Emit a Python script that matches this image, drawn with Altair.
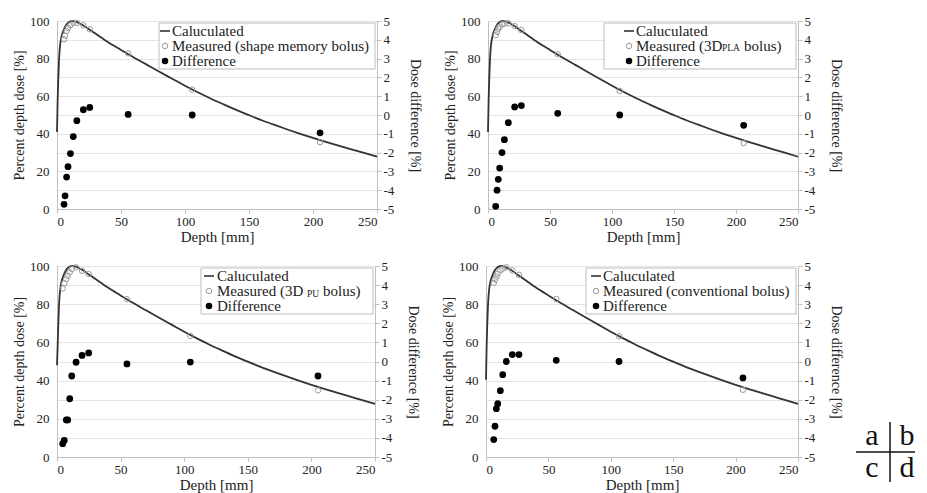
import altair as alt
import pandas as pd

FONT = "Liberation Serif"

# Calculated PDD curve (shared shape)
calc_depth = [0, 0.5, 1, 1.5, 2, 3, 4, 5, 6, 7, 8, 10, 12, 14, 16, 20, 25, 30, 40, 50,
              60, 70, 80, 90, 100, 110, 120, 130, 140, 150, 160, 170, 180, 190, 200,
              210, 220, 230, 240, 250]
calc_pdd = [41, 58, 69, 78, 84, 90, 93, 94.8, 96.4, 97.6, 98.6, 99.7, 100, 99.8, 99.3,
            97.9, 95.6, 93.3, 88.7, 84.6, 80.6, 76.8, 73.0, 69.3, 65.6, 62.1, 58.8, 55.7,
            52.7, 49.9, 47.2, 44.7, 42.3, 40.0, 37.8, 35.7, 33.7, 31.7, 29.8, 27.8]
surface_dose = {"a": 41, "b": 41, "c": 48, "d": 40.5}

# (a) shape memory bolus
depth_a = [5.5, 6.3, 7.5, 8.6, 10.5, 12.7, 15.5, 20.6, 25.6, 55.6, 105.6, 205.5]
measured_a = [90.3, 92.2, 94.7, 96.3, 97.8, 99.0, 99.0, 97.7, 95.6, 82.8, 63.5, 35.6]
diff_a = [-4.75, -4.3, -3.3, -2.75, -2.05, -1.15, -0.3, 0.28, 0.4, 0.03, 0.0, -0.95]

# (b) 3D PLA bolus
depth_b = [6.2, 7.3, 8.3, 9.4, 11.3, 13.2, 16.4, 21.5, 26.9, 56.2, 106.2, 206.2]
measured_b = [92.5, 94.2, 95.8, 97.0, 98.2, 98.6, 98.8, 97.3, 95.2, 82.3, 62.8, 35.1]
diff_b = [-4.86, -4.0, -3.42, -2.82, -2.0, -1.31, -0.41, 0.43, 0.5, 0.09, 0.0, -0.55]

# (c) 3D PU bolus
depth_c = [4.5, 5.7, 7.3, 8.4, 10.0, 11.6, 15.0, 19.7, 24.9, 55.0, 104.8, 205.2]
measured_c = [88.3, 90.9, 93.2, 94.9, 96.7, 98.4, 99.3, 97.5, 95.8, 82.6, 63.4, 34.9]
diff_c = [-4.3, -4.13, -3.06, -3.06, -1.95, -0.76, -0.04, 0.32, 0.45, -0.13, -0.03, -0.76]

# (d) conventional bolus
depth_d = [6.2, 7.2, 8.3, 9.4, 11.5, 13.4, 16.3, 21.1, 26.4, 56.3, 106.6, 205.9]
measured_d = [91.1, 93.0, 94.5, 96.0, 97.7, 98.6, 99.3, 97.7, 95.4, 82.7, 63.2, 35.2]
diff_d = [-4.09, -3.39, -2.47, -2.21, -1.53, -0.69, 0.0, 0.36, 0.36, 0.06, 0.0, -0.86]

x_ticks = [0, 50, 100, 150, 200, 250]
pdd_ticks = [0, 20, 40, 60, 80, 100]
diff_ticks = [-5, -4, -3, -2, -1, 0, 1, 2, 3, 4, 5]

TXT = "#222222"
AX = "#bfbfbf"
ONE = pd.DataFrame({"k": [0]})


def panel(key, depth, measured, diff, meas_parts, W, H, box_w, sym_dx, text_dx, corner=False):
    pdd = list(calc_pdd)
    pdd[0] = surface_dose[key]
    calc_df = pd.DataFrame({"depth": calc_depth, "pdd": pdd})
    meas_df = pd.DataFrame({"depth": depth, "measured": measured, "diff": diff})

    xenc = alt.X("depth:Q", scale=alt.Scale(domain=[0, 250], nice=False, zero=False),
                 axis=alt.Axis(values=x_ticks, title="Depth [mm]", grid=False,
                               tickSize=4, tickColor=AX, domainColor=AX,
                               labelFont=FONT, labelFontSize=13, labelColor=TXT,
                               labelPadding=2, titleFont=FONT, titleFontSize=15,
                               titleFontWeight="normal", titleColor=TXT, titlePadding=1))
    ysc = alt.Scale(domain=[0, 100], nice=False, zero=False)
    dsc = alt.Scale(domain=[-5, 5], nice=False, zero=False)

    line = alt.Chart(calc_df).mark_line(color="#333333", strokeWidth=1.8, interpolate="monotone").encode(
        x=xenc,
        y=alt.Y("pdd:Q", scale=ysc,
                axis=alt.Axis(values=pdd_ticks, title="Percent depth dose [%]", grid=False,
                              ticks=False, domainColor=AX, labelFont=FONT, labelFontSize=13,
                              labelColor=TXT, labelPadding=8, titleFont=FONT, titleFontSize=14,
                              titleFontWeight="normal", titleColor=TXT, titlePadding=3)),
    )
    meas = alt.Chart(meas_df).mark_point(shape="circle", filled=False, color="#9a9a9a",
                                         size=30, strokeWidth=1, opacity=1).encode(
        x=xenc, y=alt.Y("measured:Q", scale=ysc, axis=None))
    dpts = alt.Chart(meas_df).mark_point(shape="circle", filled=True, color="black",
                                         size=46, opacity=1).encode(
        x=xenc,
        y=alt.Y("diff:Q", scale=dsc,
                axis=alt.Axis(orient="right", values=diff_ticks, title="Dose difference [%]",
                              grid=True, gridColor="#e3e3e3", tickSize=4, tickColor=AX,
                              domainColor=AX, labelFont=FONT, labelFontSize=13,
                              labelColor=TXT, labelPadding=2, labelExpr="datum.value",
                              titleFont=FONT, titleFontSize=14, titleFontWeight="normal",
                              titleColor=TXT, titlePadding=14)))

    # legend box (drawn by hand to allow subscripts)
    bx1 = W - 2
    bx0 = bx1 - box_w
    by0 = 2
    by1 = by0 + 46
    rows = [by0 + 8, by0 + 23, by0 + 38]
    legend = [
        alt.Chart(ONE).mark_rect(fill="white", stroke="#bdbdbd", strokeWidth=1).encode(
            x=alt.value(bx0), x2=alt.value(bx1), y=alt.value(by0), y2=alt.value(by1)),
        alt.Chart(ONE).mark_rule(color="#333333", strokeWidth=1.6).encode(
            x=alt.value(bx0 + sym_dx - 5), x2=alt.value(bx0 + sym_dx + 5),
            y=alt.value(rows[0])),
        alt.Chart(ONE).mark_point(shape="circle", filled=False, color="#9a9a9a", size=30,
                                  strokeWidth=1, opacity=1).encode(
            x=alt.value(bx0 + sym_dx), y=alt.value(rows[1])),
        alt.Chart(ONE).mark_point(shape="circle", filled=True, color="black", size=42,
                                  opacity=1).encode(
            x=alt.value(bx0 + sym_dx), y=alt.value(rows[2])),
        alt.Chart(ONE).mark_text(align="left", baseline="middle", font=FONT, fontSize=15,
                                 color=TXT).encode(
            x=alt.value(bx0 + text_dx), y=alt.value(rows[0]), text=alt.value("Caluculated")),
        alt.Chart(ONE).mark_text(align="left", baseline="middle", font=FONT, fontSize=15,
                                 color=TXT).encode(
            x=alt.value(bx0 + text_dx), y=alt.value(rows[2]), text=alt.value("Difference")),
    ]
    for txt, dx, fs, dy in meas_parts:
        legend.append(
            alt.Chart(ONE).mark_text(align="left", baseline="middle", font=FONT, fontSize=fs,
                                     color=TXT).encode(
                x=alt.value(bx0 + text_dx + dx), y=alt.value(rows[1] + dy), text=alt.value(txt)))

    layers = [line, meas, dpts] + legend

    if corner:
        for t, cx, cy in [("a", 386, 170), ("b", 421, 170), ("c", 386, 202), ("d", 421, 202)]:
            layers.append(alt.Chart(ONE).mark_text(align="center", baseline="middle", font=FONT,
                                                   fontSize=30, color="#111111").encode(
                x=alt.value(cx), y=alt.value(cy), text=alt.value(t)))
        layers.append(alt.Chart(ONE).mark_rule(color="#111111", strokeWidth=1.5).encode(
            x=alt.value(370), x2=alt.value(429), y=alt.value(186)))
        layers.append(alt.Chart(ONE).mark_rule(color="#111111", strokeWidth=1.5).encode(
            x=alt.value(404), y=alt.value(156), y2=alt.value(216)))

    return alt.layer(*layers).resolve_scale(y="independent").properties(width=W, height=H)


pa = panel("a", depth_a, measured_a, diff_a,
           [("Measured (shape memory bolus)", 0, 15, 0)], 320, 188, 216, 6, 13)
pb = panel("b", depth_b, measured_b, diff_b,
           [("Measured (3D", 0, 15, 0), ("PLA", 86, 9.5, 2), ("bolus)", 108, 15, 0)],
           310, 188, 192, 25, 32)
pc = panel("c", depth_c, measured_c, diff_c,
           [("Measured (3D", 0, 15, 0), ("PU", 90, 9.5, 3), ("bolus)", 106, 15, 0)],
           318, 191, 172, 8, 16)
pd_ = panel("d", depth_d, measured_d, diff_d,
            [("Measured (conventional bolus)", 0, 15, 0)], 312, 191, 210, 10, 17, corner=True)

top = alt.hconcat(pa, pb, spacing=20)
bottom = alt.hconcat(pc, pd_, spacing=20)
chart = alt.vconcat(top, bottom, spacing=14).properties(
    padding={"left": 4, "top": 6, "right": 0, "bottom": 0}
).configure_view(strokeWidth=0).configure(font=FONT)

chart.save("out.html", embed_options={"renderer": "svg", "actions": False})
